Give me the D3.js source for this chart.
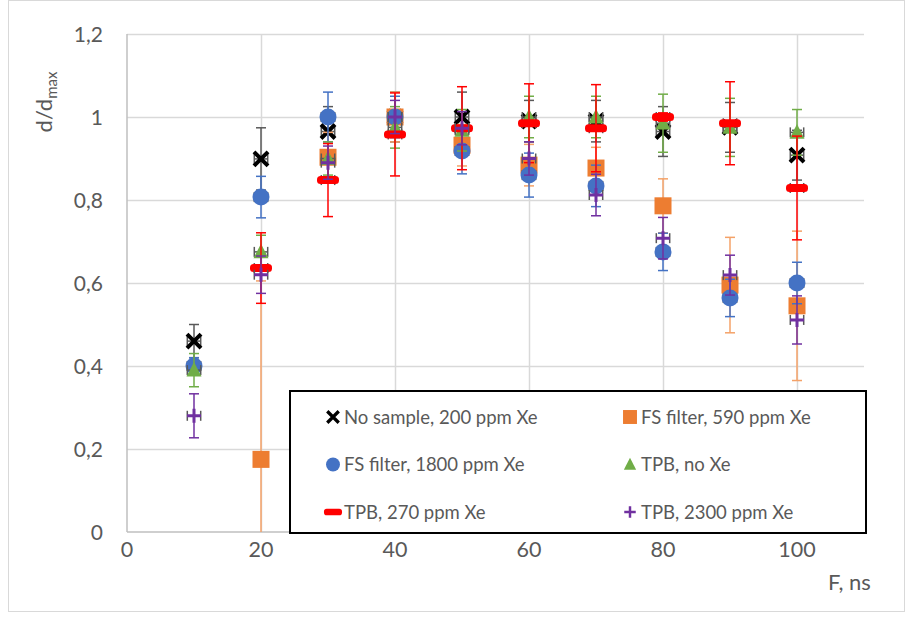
<!DOCTYPE html>
<html>
<head>
<meta charset="utf-8">
<script src="https://cdn.jsdelivr.net/npm/d3@7"></script>
<style>
  body { margin: 0; background: #fff; }
  svg { display: block; font-family: Lato, "Open Sans", sans-serif; }
</style>
</head>
<body>
<svg id="grafico"></svg>
<script>
// datos
var xVals = [10, 20, 30, 40, 50, 60, 70, 80, 90, 100];
var yTicks = [0, 0.2, 0.4, 0.6, 0.8, 1, 1.2];
var xTicks = [0, 20, 40, 60, 80, 100];

var noSample = [0.46, 0.899, 0.965, 1.0, 1.0, 0.99, 0.99, 0.965, 0.975, 0.908];
var noSampleErr = [0.04, 0.075, 0.06, 0.06, 0.06, 0.05, 0.05, 0.06, 0.06, 0.06];
var fs590 = [null, 0.175, 0.903, 1.0, 0.932, 0.884, 0.877, 0.786, 0.595, 0.545];
var fs590Err = [null, 0.43, 0.06, 0.06, 0.05, 0.05, 0.05, 0.065, 0.115, 0.18];
var fs1800 = [0.40, 0.807, 1.0, 1.0, 0.918, 0.86, 0.834, 0.675, 0.564, 0.60];
var fs1800Err = [0.02, 0.05, 0.06, 0.05, 0.055, 0.053, 0.05, 0.045, 0.045, 0.05];
var tpbNoXe = [0.39, 0.675, 0.9, 0.975, 0.968, 1.0, 1.0, 0.985, 0.975, 0.963];
var tpbNoXeErr = [0.04, 0.04, 0.04, 0.05, 0.05, 0.05, 0.05, 0.07, 0.07, 0.055];
var tpb270 = [null, 0.636, 0.848, 0.958, 0.973, 0.985, 0.973, 1.0, 0.985, 0.829];
var tpb270Err = [null, 0.085, 0.088, 0.1, 0.1, 0.095, 0.105, 0.01, 0.1, 0.125];
var tpb2300 = [0.28, 0.62, 0.89, 1.0, 0.973, 0.9, 0.812, 0.708, 0.619, 0.511];
var tpb2300Err = [0.053, 0.045, 0.04, 0.04, 0.04, 0.04, 0.05, 0.05, 0.048, 0.058];
var xErr = 1;

var series = [
  { name: "No sample, 200 ppm Xe", y: noSample, err: noSampleErr, marker: "x", color: "#000000", errColor: "#595959" },
  { name: "FS filter, 590 ppm Xe", y: fs590, err: fs590Err, marker: "square", color: "#ED7D31", errColor: "#F4A268" },
  { name: "FS filter, 1800 ppm Xe", y: fs1800, err: fs1800Err, marker: "circle", color: "#4472C4", errColor: "#4472C4" },
  { name: "TPB, no Xe", y: tpbNoXe, err: tpbNoXeErr, marker: "triangle", color: "#70AD47", errColor: "#70AD47" },
  { name: "TPB, 270 ppm Xe", y: tpb270, err: tpb270Err, marker: "dash", color: "#FF0000", errColor: "#FF0000" },
  { name: "TPB, 2300 ppm Xe", y: tpb2300, err: tpb2300Err, marker: "plus", color: "#7030A0", errColor: "#7030A0" }
];

var anchura = 911, altura = 619;
var izq = 127, der = 864, arriba = 34, abajo = 532;

var svg = d3.select("#grafico").attr("width", anchura).attr("height", altura);

// borde exterior
svg.append("rect")
  .attr("x", 8.5).attr("y", 0.5).attr("width", 896).attr("height", 611)
  .attr("fill", "#fff").attr("stroke", "#d9d9d9");

var x = d3.scaleLinear().domain([0, 110]).range([izq, der]);
var y = d3.scaleLinear().domain([0, 1.2]).range([abajo, arriba]);

// rejilla
svg.append("g").selectAll("line").data(yTicks.slice(1)).join("line")
  .attr("x1", izq).attr("x2", der)
  .attr("y1", function (d) { return Math.round(y(d)) + 0.5; })
  .attr("y2", function (d) { return Math.round(y(d)) + 0.5; })
  .attr("stroke", "#d9d9d9").attr("stroke-width", 1.5);
svg.append("g").selectAll("line").data(xTicks.slice(1)).join("line")
  .attr("y1", arriba).attr("y2", abajo)
  .attr("x1", function (d) { return Math.round(x(d)) + 0.5; })
  .attr("x2", function (d) { return Math.round(x(d)) + 0.5; })
  .attr("stroke", "#d9d9d9").attr("stroke-width", 1.5);

// ejes
svg.append("line").attr("x1", izq).attr("x2", izq).attr("y1", arriba).attr("y2", abajo)
  .attr("stroke", "#bfbfbf").attr("stroke-width", 1.5);
svg.append("line").attr("x1", izq).attr("x2", der).attr("y1", abajo).attr("y2", abajo)
  .attr("stroke", "#bfbfbf").attr("stroke-width", 1.5);

var fmt = function (d) { return String(d).replace(".", ","); };

svg.append("g").selectAll("text").data(yTicks).join("text")
  .attr("x", 103).attr("y", function (d) { return y(d) + 8; })
  .attr("text-anchor", "end").attr("font-size", 21).attr("fill", "#595959")
  .text(fmt);
svg.append("g").selectAll("text").data(xTicks).join("text")
  .attr("x", function (d) { return x(d); }).attr("y", 557)
  .attr("text-anchor", "middle").attr("font-size", 21.5).attr("fill", "#595959")
  .text(fmt);

svg.append("text").attr("x", 828).attr("y", 590)
  .attr("font-size", 22).attr("fill", "#595959").text("F, ns");

var titulo = svg.append("text")
  .attr("transform", "translate(52,102) rotate(-90)")
  .attr("text-anchor", "middle").attr("font-size", 22).attr("fill", "#595959");
titulo.append("tspan").text("d/d");
titulo.append("tspan").attr("font-size", 15).attr("dy", 5).text("max");

// area de recorte
svg.append("clipPath").attr("id", "recorte").append("rect")
  .attr("x", izq).attr("y", arriba).attr("width", der - izq).attr("height", abajo - arriba);

var plot = svg.append("g").attr("clip-path", "url(#recorte)");

function dibujarMarcador(g, tipo, color, s) {
  if (tipo === "x") {
    var r = 7 * s;
    g.append("path").attr("d", "M" + (-r) + "," + (-r) + "L" + r + "," + r + "M" + (-r) + "," + r + "L" + r + "," + (-r))
      .attr("stroke", color).attr("stroke-width", 4 * s).attr("fill", "none");
  } else if (tipo === "square") {
    var a = 8.5 * s;
    g.append("rect").attr("x", -a).attr("y", -a).attr("width", 2 * a).attr("height", 2 * a).attr("fill", color);
  } else if (tipo === "circle") {
    g.append("circle").attr("r", 8.5 * s).attr("fill", color);
  } else if (tipo === "triangle") {
    var t = 7.5 * s;
    g.append("path").attr("d", "M0," + (-t * 1.1) + "L" + t + "," + (t * 0.85) + "L" + (-t) + "," + (t * 0.85) + "Z").attr("fill", color);
  } else if (tipo === "dash") {
    g.append("rect").attr("x", -11 * s).attr("y", -4 * s).attr("width", 22 * s).attr("height", 8 * s)
      .attr("rx", 3.5 * s).attr("fill", color);
  } else if (tipo === "plus") {
    var p = 7 * s;
    g.append("path").attr("d", "M" + (-p) + ",0L" + p + ",0M0," + (-p) + "L0," + p)
      .attr("stroke", color).attr("stroke-width", 3 * s).attr("fill", "none");
  }
}

series.forEach(function (serie) {
  var puntos = xVals.map(function (xv, i) {
    return { x: xv, y: serie.y[i], e: serie.err[i] };
  }).filter(function (d) { return d.y !== null; });

  var g = plot.append("g");
  // barras de error verticales
  puntos.forEach(function (d) {
    var px = x(d.x);
    g.append("line").attr("x1", px).attr("x2", px)
      .attr("y1", y(d.y - d.e)).attr("y2", y(d.y + d.e))
      .attr("stroke", serie.errColor).attr("stroke-width", 1.5);
    [d.y - d.e, d.y + d.e].forEach(function (v) {
      g.append("line").attr("x1", px - 5).attr("x2", px + 5)
        .attr("y1", y(v)).attr("y2", y(v))
        .attr("stroke", serie.errColor).attr("stroke-width", 1.5);
    });
    // barras de error horizontales
    var py = y(d.y);
    g.append("line").attr("x1", x(d.x - xErr)).attr("x2", x(d.x + xErr))
      .attr("y1", py).attr("y2", py).attr("stroke", "#595959").attr("stroke-width", 1.5);
    [d.x - xErr, d.x + xErr].forEach(function (v) {
      g.append("line").attr("x1", x(v)).attr("x2", x(v))
        .attr("y1", py - 5).attr("y2", py + 5)
        .attr("stroke", "#595959").attr("stroke-width", 1.5);
    });
  });
  // marcadores
  puntos.forEach(function (d) {
    var m = g.append("g").attr("transform", "translate(" + x(d.x) + "," + y(d.y) + ")");
    dibujarMarcador(m, serie.marker, serie.color, 1);
  });
});

// leyenda
var leyenda = svg.append("g");
leyenda.append("rect").attr("x", 290).attr("y", 391).attr("width", 576).attr("height", 142)
  .attr("fill", "#fff").attr("stroke", "#000").attr("stroke-width", 2);

series.forEach(function (serie, i) {
  var col = i % 2, fila = Math.floor(i / 2);
  var mx = col === 0 ? 333 : 630;
  var my = 417 + fila * 47.5;
  var m = leyenda.append("g").attr("transform", "translate(" + mx + "," + my + ")");
  dibujarMarcador(m, serie.marker, serie.color, 0.82);
  leyenda.append("text").attr("x", mx + 11).attr("y", my + 6.5)
    .attr("font-size", 18.5).attr("fill", "#595959").text(serie.name);
});
</script>
</body>
</html>
